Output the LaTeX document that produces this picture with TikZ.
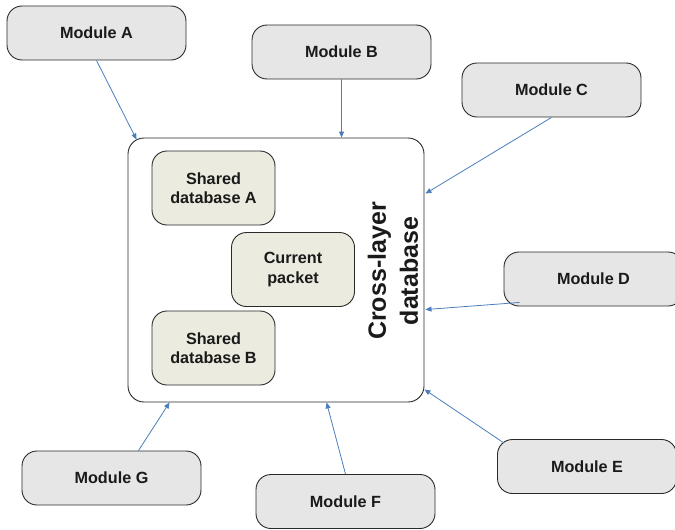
\documentclass[tikz,border=0pt]{standalone}
\usepackage{fontspec}
\setmainfont{Liberation Sans}
\usetikzlibrary{arrows.meta,calc}
\definecolor{modfill}{HTML}{E6E6E6}
\definecolor{innerfill}{HTML}{EBEBE0}
\definecolor{arrowblue}{HTML}{4A7EBB}
\definecolor{edgec}{HTML}{2A2A2A}
\definecolor{txt}{HTML}{1A1A1A}
\begin{document}
\begin{tikzpicture}[x=1pt,y=-1pt,
 module/.style={draw=edgec, line width=0.9pt, fill=modfill, rounded corners=15pt, minimum width=179pt, minimum height=54pt, text=txt, font=\fontsize{16.2}{19.5}\selectfont\bfseries, inner sep=0pt},
 innerbox/.style={draw=edgec, line width=0.9pt, fill=innerfill, rounded corners=15pt, minimum width=123pt, minimum height=74pt, align=center, text=txt, font=\fontsize{16.2}{19.5}\selectfont\bfseries, inner sep=0pt},
 dbbox/.style={draw=edgec, line width=0.9pt, fill=white, rounded corners=16pt, minimum width=296pt, minimum height=264pt, inner sep=0pt},
 link/.style={draw=arrowblue, line width=0.8pt, -{Triangle[length=6pt,width=5pt]}}]
\useasboundingbox (0,0) rectangle (675,530);
\node[dbbox] (db) at (276,270) {};
\node[innerbox] (sdA) at (213.5,188) {Shared\\database A};
\node[innerbox] (cp) at (293,269.5) {Current\\packet};
\node[innerbox] (sdB) at (213.5,348) {Shared\\database B};
\node[rotate=90, align=center, text=txt, font=\fontsize{25}{32}\selectfont\bfseries] (lbl) at (393,271) {Cross-layer\\database};
\node[module] (mA) at (96.5,33) {Module A};
\node[module] (mB) at (341.5,52) {Module B};
\node[module] (mC) at (551.5,90) {Module C};
\node[module] (mD) at (593.5,279) {Module D};
\node[module] (mE) at (587,466.5) {Module E};
\node[module] (mF) at (345.5,501.5) {Module F};
\node[module] (mG) at (111.5,478) {Module G};
\draw[link] (mA.south) -- ($(db.north west)+(9,2)$);
\draw[link] (mB.south) -- ($(db.north west)+(214,0)$);
\draw[link] (mC.south) -- ($(db.north east)+(1,56)$);
\draw[link] ($(mD.south west)+(16,-4)$) -- ($(db.north east)+(1,172)$);
\draw[link] ($(mE.north west)+(7,4)$) -- ($(db.south east)+(0,-13)$);
\draw[link] (mF.north) -- ($(db.south west)+(199,0)$);
\draw[link] ($(mG.north)+(27,0)$) -- ($(db.south west)+(42,0)$);
\end{tikzpicture}
\end{document}
